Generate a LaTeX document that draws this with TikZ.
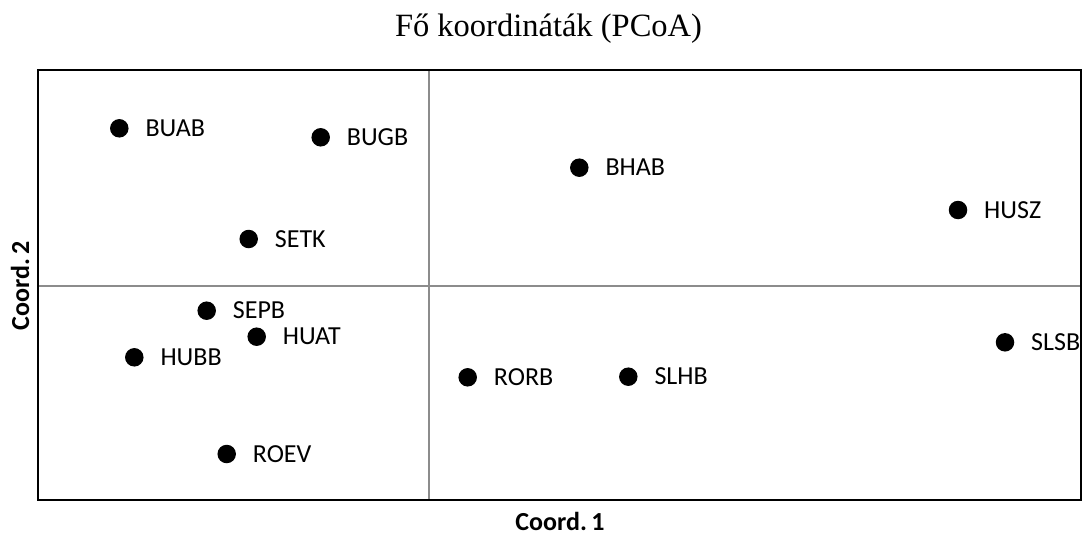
\documentclass[tikz,border=0pt]{standalone}
\usepackage{fontspec}
\setmainfont{Carlito}
\newfontfamily\titlefont{Liberation Serif}
\begin{document}
\begin{tikzpicture}[x=1pt,y=-1pt,
  dot/.style={circle,fill=black,draw=none,minimum size=18.5pt,inner sep=0pt},
  lbl/.style={anchor=base west,inner sep=0pt,font=\fontsize{26}{30}\selectfont},
  axtitle/.style={anchor=base,inner sep=0pt,font=\fontsize{26}{30}\selectfont\bfseries},
  frame/.style={draw=black,line width=2.4pt},
  axisline/.style={draw=black!45,line width=1.1pt}]
\useasboundingbox (0,0) rectangle (1084,535);
% axis lines
\coordinate (vt) at (429,70);
\coordinate (vb) at (429,500);
\coordinate (hl) at (38,286);
\coordinate (hr) at (1081,286);
\draw[axisline] (vt) -- (vb);
\draw[axisline] (hl) -- (hr);
\draw[frame] (38,70) rectangle (1081,500);
% title
\node[anchor=base,inner sep=0pt,font=\titlefont\fontsize{32.5}{38}\selectfont] (title) at (548.5,36.7) {Fő koordináták (PCoA)};
\node[axtitle] (xt) at (560,530) {Coord.\,1};
\node[axtitle,rotate=90] (yt) at (29,286) {Coord.\,2};
% points
\foreach \n/\x/\y/\t in {buab/119.3/128.3/BUAB, bugb/320.7/137.3/BUGB, bhab/579.3/167.7/BHAB,
  husz/958/210/HUSZ, setk/248.7/239/SETK, sepb/206.7/310.7/SEPB, huat/256.7/336.7/HUAT,
  hubb/134.3/357.3/HUBB, slsb/1005/342.3/SLSB, rorb/467.7/377.3/RORB, slhb/628.3/376.7/SLHB,
  roev/226.7/454/ROEV}{
  \node[dot] (\n) at (\x,\y) {};
  \node[lbl] (\n-l) at ([xshift=26pt,yshift=-8.2pt]\n.center) {\t};
}
\end{tikzpicture}
\end{document}
